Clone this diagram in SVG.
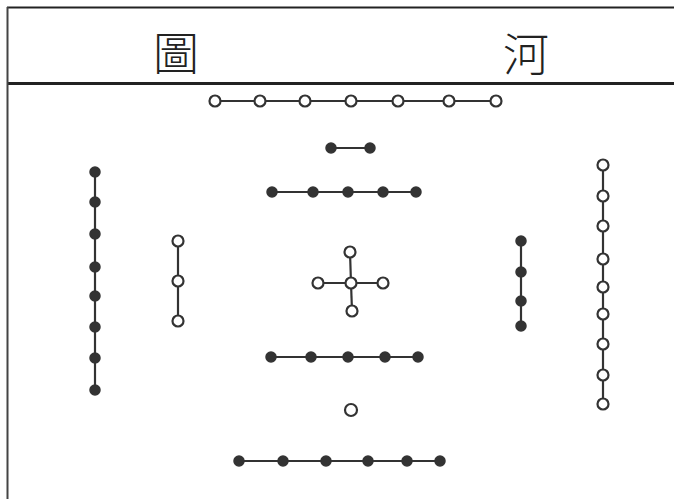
<svg xmlns="http://www.w3.org/2000/svg" width="674" height="499" viewBox="0 0 674 499">
<style>
.ln{stroke:#333;stroke-width:2.2;fill:none}
.w{fill:#fff;stroke:#333;stroke-width:2.2}
.b{fill:#333;stroke:#333;stroke-width:1.5}
.t{font-family:"Noto Sans CJK TC","Noto Sans CJK SC",sans-serif;font-size:46px;font-weight:300;fill:#222;text-anchor:middle}
</style>
<rect width="674" height="499" fill="#fff"/>
<g id="frame">
<line x1="7" y1="7.5" x2="674" y2="7.5" stroke="#222" stroke-width="2"/>
<line x1="7" y1="83.5" x2="674" y2="83.5" stroke="#222" stroke-width="3"/>
<line x1="7.5" y1="7" x2="7.5" y2="499" stroke="#444" stroke-width="2"/>
</g>
<g id="title">
<text class="t" x="176" y="70">圖</text>
<text class="t" x="526" y="71">河</text>
</g>
<g id="connectors">
<line class="ln" x1="215" y1="101" x2="496" y2="101"/>
<line class="ln" x1="331" y1="148" x2="370" y2="148"/>
<line class="ln" x1="272" y1="192" x2="416" y2="192"/>
<line class="ln" x1="318" y1="283" x2="383" y2="283"/>
<line class="ln" x1="350" y1="252" x2="351" y2="283"/>
<line class="ln" x1="351" y1="283" x2="352" y2="311"/>
<line class="ln" x1="95" y1="172" x2="95" y2="390"/>
<line class="ln" x1="178" y1="241" x2="178" y2="321"/>
<line class="ln" x1="521" y1="241" x2="521" y2="326"/>
<line class="ln" x1="603" y1="165" x2="603" y2="404"/>
<line class="ln" x1="271" y1="357" x2="418" y2="357"/>
<line class="ln" x1="239" y1="461" x2="440" y2="461"/>
</g>
<g id="top7">
<circle class="w" cx="215" cy="101" r="5.5"/><circle class="w" cx="260" cy="101" r="5.5"/><circle class="w" cx="305" cy="101" r="5.5"/><circle class="w" cx="351" cy="101" r="5.5"/><circle class="w" cx="398" cy="101" r="5.5"/><circle class="w" cx="449" cy="101" r="5.5"/><circle class="w" cx="496" cy="101" r="5.5"/>
</g>
<g id="top2">
<circle class="b" cx="331" cy="148" r="5"/><circle class="b" cx="370" cy="148" r="5"/>
</g>
<g id="top5">
<circle class="b" cx="272" cy="192" r="5"/><circle class="b" cx="313" cy="192" r="5"/><circle class="b" cx="348" cy="192" r="5"/><circle class="b" cx="383" cy="192" r="5"/><circle class="b" cx="416" cy="192" r="5"/>
</g>
<g id="center5">
<circle class="w" cx="351" cy="283" r="5.5"/><circle class="w" cx="350" cy="252" r="5.5"/><circle class="w" cx="318" cy="283" r="5.5"/><circle class="w" cx="383" cy="283" r="5.5"/><circle class="w" cx="352" cy="311" r="5.5"/>
</g>
<g id="left8">
<circle class="b" cx="95" cy="172" r="5"/><circle class="b" cx="95" cy="202" r="5"/><circle class="b" cx="95" cy="234" r="5"/><circle class="b" cx="95" cy="267" r="5"/><circle class="b" cx="95" cy="296" r="5"/><circle class="b" cx="95" cy="327" r="5"/><circle class="b" cx="95" cy="358" r="5"/><circle class="b" cx="95" cy="390" r="5"/>
</g>
<g id="left3">
<circle class="w" cx="178" cy="241" r="5.5"/><circle class="w" cx="178" cy="281" r="5.5"/><circle class="w" cx="178" cy="321" r="5.5"/>
</g>
<g id="right4">
<circle class="b" cx="521" cy="241" r="5"/><circle class="b" cx="521" cy="272" r="5"/><circle class="b" cx="521" cy="301" r="5"/><circle class="b" cx="521" cy="326" r="5"/>
</g>
<g id="right9">
<circle class="w" cx="603" cy="165" r="5.5"/><circle class="w" cx="603" cy="196" r="5.5"/><circle class="w" cx="603" cy="226" r="5.5"/><circle class="w" cx="603" cy="259" r="5.5"/><circle class="w" cx="603" cy="287" r="5.5"/><circle class="w" cx="603" cy="314" r="5.5"/><circle class="w" cx="603" cy="344" r="5.5"/><circle class="w" cx="603" cy="375" r="5.5"/><circle class="w" cx="603" cy="404" r="5.5"/>
</g>
<g id="bottom5">
<circle class="b" cx="271" cy="357" r="5"/><circle class="b" cx="311" cy="357" r="5"/><circle class="b" cx="348" cy="357" r="5"/><circle class="b" cx="385" cy="357" r="5"/><circle class="b" cx="418" cy="357" r="5"/>
</g>
<g id="bottom1">
<circle class="w" cx="351" cy="410" r="6"/>
</g>
<g id="bottom6">
<circle class="b" cx="239" cy="461" r="5"/><circle class="b" cx="283" cy="461" r="5"/><circle class="b" cx="326" cy="461" r="5"/><circle class="b" cx="368" cy="461" r="5"/><circle class="b" cx="407" cy="461" r="5"/><circle class="b" cx="440" cy="461" r="5"/>
</g>
</svg>
